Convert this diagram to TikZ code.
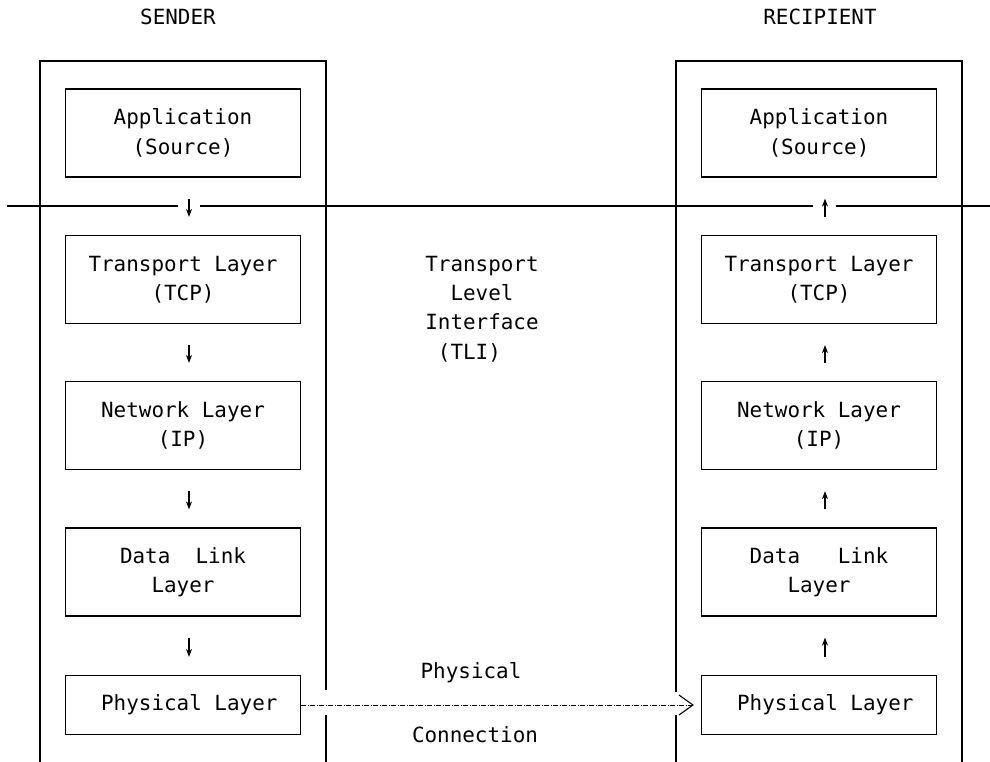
\documentclass[tikz,border=0pt]{standalone}
\usepackage{fontspec}
\setmainfont{DejaVu Sans Mono}
\usetikzlibrary{arrows.meta}
\begin{document}
\begin{tikzpicture}[x=1bp,y=-1bp,
  line width=1.2bp,
  every node/.style={font=\fontsize{21}{29.5}\selectfont, inner sep=0pt},
  layerbox/.style={draw, minimum width=235bp, minimum height=88bp, align=center},
  physbox/.style={draw, minimum width=235bp, minimum height=59bp, align=center},
  flow/.style={-{Stealth[length=8bp,width=6bp]}, line width=1.3bp},
  linkline/.style={line width=0.8bp, dash pattern=on 5bp off 1.5bp on 1bp off 1.5bp,
    -{Straight Barb[length=14bp,width=20bp,line width=1.1bp]}}
]
\useasboundingbox (0,0) rectangle (990,762);

% column headings
\node (sendhead) at (178,17) {SENDER};
\node (recvhead) at (820,17) {RECIPIENT};

% outer frames of the two hosts (open at the bottom, gap for the link)
\draw (326,690) -- (326,61) -- (40,61) -- (40,762);
\draw (326,715) -- (326,762);
\draw (676,692) -- (676,61) -- (962,61) -- (962,762);
\draw (676,715) -- (676,762);

% sender stack
\node[layerbox] (sapp) at (183,133)   {Application\\(Source)};
\node[layerbox] (stcp) at (183,279.5) {Transport Layer\\(TCP)};
\node[layerbox] (sip)  at (183,425.5) {Network Layer\\(IP)};
\node[layerbox] (sdl)  at (183,572)   {Data\ \ Link\\Layer};
\node[physbox]  (sph)  at (183,705)   {\ Physical Layer};

% recipient stack
\node[layerbox] (rapp) at (819,133)   {Application\\(Source)};
\node[layerbox] (rtcp) at (819,279.5) {Transport Layer\\(TCP)};
\node[layerbox] (rip)  at (819,425.5) {Network Layer\\(IP)};
\node[layerbox] (rdl)  at (819,572)   {Data\ \ \ Link\\Layer};
\node[physbox]  (rph)  at (819,705)   {\ Physical Layer};

% transport level interface line
\coordinate (tliL) at (7,206);
\coordinate (tliR) at (990,206);
\draw (tliL) -- (178,206);
\draw (200,206) -- (813,206);
\draw (836,206) -- (tliR);

\node[align=left] (tli) at (482,309) {Transport\\\ \ Level\\Interface\\\ (TLI)};

% downward flow through the sender
\draw[flow, shorten <=21bp, shorten >=18bp] ([xshift=6bp]sapp.south) -- ([xshift=6bp]stcp.north);
\draw[flow, shorten <=21bp, shorten >=18bp] ([xshift=6bp]stcp.south) -- ([xshift=6bp]sip.north);
\draw[flow, shorten <=21bp, shorten >=18bp] ([xshift=6bp]sip.south) -- ([xshift=6bp]sdl.north);
\draw[flow, shorten <=21bp, shorten >=18bp] ([xshift=6bp]sdl.south) -- ([xshift=6bp]sph.north);

% upward flow through the recipient
\draw[flow, shorten <=18bp, shorten >=21bp] ([xshift=6bp]rtcp.north) -- ([xshift=6bp]rapp.south);
\draw[flow, shorten <=18bp, shorten >=21bp] ([xshift=6bp]rip.north) -- ([xshift=6bp]rtcp.south);
\draw[flow, shorten <=18bp, shorten >=21bp] ([xshift=6bp]rdl.north) -- ([xshift=6bp]rip.south);
\draw[flow, shorten <=18bp, shorten >=21bp] ([xshift=6bp]rph.north) -- ([xshift=6bp]rdl.south);

% physical connection
\draw[linkline, shorten >=7bp] (sph.east) -- (rph.west);
\node (physlbl) at (471,673) {Physical};
\node (connlbl) at (475,735) {Connection};
\end{tikzpicture}
\end{document}
